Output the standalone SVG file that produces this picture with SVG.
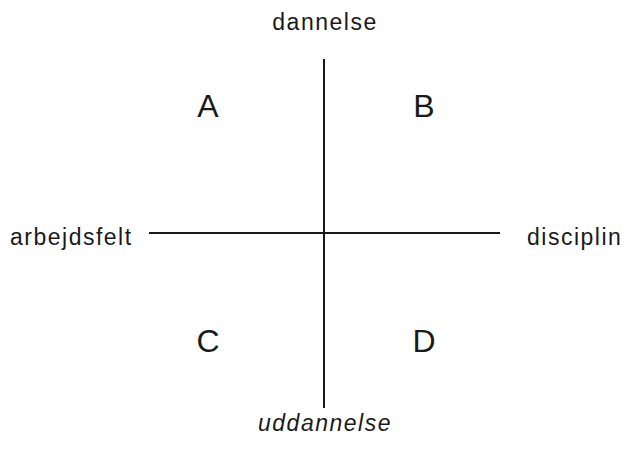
<svg xmlns="http://www.w3.org/2000/svg" width="626" height="460" viewBox="0 0 626 460">
<style>
.lbl{font-family:"Liberation Sans",Arial,sans-serif;font-size:23px;fill:#1a1a1a;letter-spacing:1.5px}
.q{font-family:"Liberation Sans",Arial,sans-serif;font-size:32px;fill:#1a1a1a;text-anchor:middle}
.ax{stroke:#1a1a1a;stroke-width:2;fill:none}
</style>
<rect width="626" height="460" fill="#fff"/>
<g id="connectors">
<line class="ax" x1="324" y1="59" x2="324" y2="408"/>
<line class="ax" x1="149" y1="233" x2="500" y2="233"/>
</g>
<g id="top"><text class="lbl" x="325" y="30" text-anchor="middle">dannelse</text></g>
<g id="bottom"><text class="lbl" x="325" y="431" text-anchor="middle" font-style="italic">uddannelse</text></g>
<g id="left"><text class="lbl" x="10" y="245">arbejdsfelt</text></g>
<g id="right"><text class="lbl" x="527" y="245">disciplin</text></g>
<g id="A"><text class="q" x="208" y="117">A</text></g>
<g id="B"><text class="q" x="424" y="117">B</text></g>
<g id="C"><text class="q" x="208" y="352">C</text></g>
<g id="D"><text class="q" x="424" y="352">D</text></g>
</svg>
